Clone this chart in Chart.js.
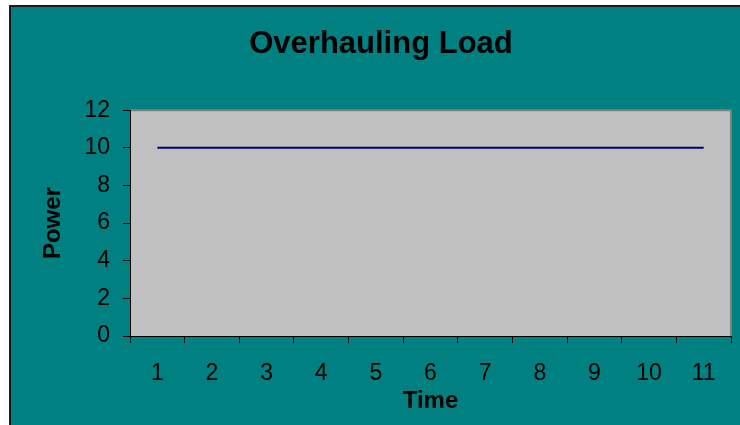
<!DOCTYPE html>
<html>
<head>
<meta charset="utf-8">
<title>Overhauling Load</title>
<script src="https://cdn.jsdelivr.net/npm/chart.js@4"></script>
<style>
    html, body { margin: 0; padding: 0; background: #fff; }
    #wrap { width: 740px; height: 425px; }
</style>
</head>
<body>
<div id="wrap"><canvas id="chart" width="740" height="425"></canvas></div>
<script>
// chart data
const timeLabels = ['1', '2', '3', '4', '5', '6', '7', '8', '9', '10', '11'];
const powerValues = [10, 10, 10, 10, 10, 10, 10, 10, 10, 10, 10];
const powerMin = 0;
const powerMax = 12;
const powerStep = 2;

const FONT = "'Liberation Sans', Arial, sans-serif";

// teal chart frame + grey plot area, painted before Chart.js draws axes
const excelBackground = {
    id: 'excelBackground',
    beforeDraw(chart) {
        const { ctx, chartArea: a } = chart;
        ctx.save();
        ctx.fillStyle = '#fff';
        ctx.fillRect(0, 0, chart.width, chart.height);
        ctx.fillStyle = '#1a1a1a';
        ctx.fillRect(9, 5, chart.width - 9, chart.height - 5);
        ctx.fillStyle = '#008080';
        ctx.fillRect(11, 7, chart.width - 11, chart.height - 7);

        ctx.fillStyle = '#c0c0c0';
        ctx.fillRect(a.left, a.top, a.right - a.left, a.bottom - a.top);
        ctx.strokeStyle = '#808080';
        ctx.lineWidth = 2;
        ctx.beginPath();
        ctx.moveTo(a.left, a.top);
        ctx.lineTo(a.right, a.top);
        ctx.lineTo(a.right, a.bottom);
        ctx.stroke();
        ctx.restore();
    }
};

Chart.defaults.color = '#000';
Chart.defaults.font.family = FONT;

new Chart(document.getElementById('chart'), {
    type: 'line',
    data: {
        labels: timeLabels,
        datasets: [{
            label: 'Power',
            data: powerValues,
            borderColor: '#000080',
            borderWidth: 2,
            pointRadius: 0,
            fill: false,
            tension: 0
        }]
    },
    options: {
        responsive: false,
        animation: false,
        layout: { padding: { left: 31, right: 9, top: 0, bottom: 0 } },
        plugins: {
            legend: { display: false },
            tooltip: { enabled: false },
            title: {
                display: true,
                text: 'Overhauling Load',
                color: '#000',
                font: { size: 31, weight: 'bold', family: FONT },
                padding: { top: 26, bottom: 47 }
            }
        },
        scales: {
            x: {
                offset: true,
                grid: { offset: true, drawOnChartArea: false, tickLength: 7, color: '#000' },
                border: { color: '#000', width: 1 },
                ticks: { font: { size: 23 }, padding: 17, maxRotation: 0 },
                title: {
                    display: true,
                    text: 'Time',
                    font: { size: 24, weight: 'bold' },
                    padding: { top: 0, bottom: 9 }
                },
                afterFit(scale) { scale.height = 89; }
            },
            y: {
                min: powerMin,
                max: powerMax,
                grid: { drawOnChartArea: false, tickLength: 7, color: '#000' },
                border: { color: '#000', width: 1 },
                ticks: { stepSize: powerStep, font: { size: 23 }, padding: 13 },
                title: {
                    display: true,
                    text: 'Power',
                    font: { size: 24, weight: 'bold' },
                    padding: { top: 8, bottom: 0 }
                },
                afterFit(scale) { scale.width = 99; }
            }
        }
    },
    plugins: [excelBackground]
});
</script>
</body>
</html>
